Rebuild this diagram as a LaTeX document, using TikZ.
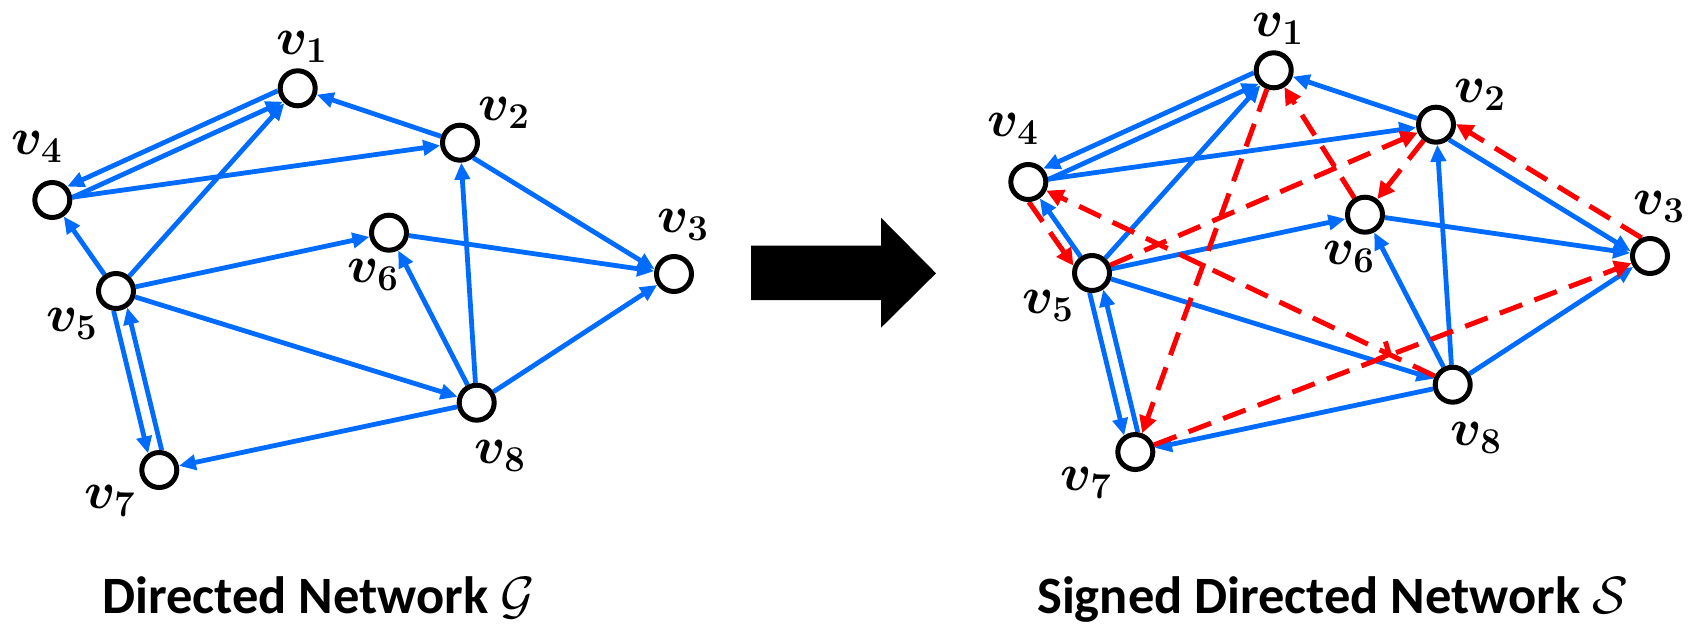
\RequirePackage{fix-cm}
\documentclass[tikz,border=0pt]{standalone}
\usepackage{amsmath,bm}
\usepackage[no-math]{fontspec}
\newfontfamily\capfont{Carlito}
\usetikzlibrary{arrows.meta,calc}
\definecolor{eblue}{RGB}{0,108,255}
\definecolor{ered}{RGB}{255,0,0}
\pgfdeclarelayer{bg}\pgfsetlayers{bg,main}
\tikzset{
 vtx/.style={circle,draw=black,line width=5pt,fill=white,minimum size=35pt,inner sep=0pt},
 lab/.style={inner sep=0pt,font=\fontsize{52}{60}\selectfont},
 be/.style={draw=eblue,line width=4.8pt,-{Triangle[length=17pt,width=15pt]}},
 re/.style={draw=ered,line width=5pt,dash pattern=on 24pt off 13pt,-{Triangle[length=17pt,width=17pt]}},
 chev/.style={draw=ered,line width=4pt,-{Straight Barb[length=9pt,width=20pt,line width=5pt]}},
 off6/.style={shorten <=19.1pt,shorten >=19.1pt},
 off7/.style={shorten <=18.7pt,shorten >=18.7pt},
 off11/.style={shorten <=16.7pt,shorten >=16.7pt},
 captxt/.style={inner sep=0pt,font=\capfont\bfseries\fontsize{52.5}{60}\selectfont},
}
\newcommand\mkgraph[3]{%
 \begin{scope}[shift={(#2,#3)}]
 \node[vtx] (#1-1) at (297.7,88.3) {};
 \node[vtx] (#1-2) at (460,142.7) {};
 \node[vtx] (#1-3) at (674,274) {};
 \node[vtx] (#1-4) at (52.3,200) {};
 \node[vtx] (#1-5) at (116,291) {};
 \node[vtx] (#1-6) at (389,232.7) {};
 \node[vtx] (#1-7) at (159.3,470) {};
 \node[vtx] (#1-8) at (476.7,402.7) {};
 \node[lab] (#1-l1) at (302,47) {$\bm{v}_{\mathbf{1}}$};
 \node[lab] (#1-l2) at (504,113) {$\bm{v}_{\mathbf{2}}$};
 \node[lab] (#1-l3) at (683,225) {$\bm{v}_{\mathbf{3}}$};
 \node[lab] (#1-l4) at (37,147) {$\bm{v}_{\mathbf{4}}$};
 \node[lab] (#1-l5) at (72,324) {$\bm{v}_{\mathbf{5}}$};
 \node[lab] (#1-l6) at (373,275) {$\bm{v}_{\mathbf{6}}$};
 \node[lab] (#1-l7) at (110,501) {$\bm{v}_{\mathbf{7}}$};
 \node[lab] (#1-l8) at (500,456) {$\bm{v}_{\mathbf{8}}$};
 \end{scope}
}
\newcommand\mkedges[1]{%
 \draw[be] (#1-2) -- (#1-1);
 \draw[be] (#1-4) -- (#1-2);
 \draw[be] (#1-5) -- (#1-1);
 \draw[be] (#1-5) -- (#1-4);
 \draw[be] (#1-5) -- (#1-6);
 \draw[be] (#1-6) -- (#1-3);
 \draw[be,off6] ($(#1-2)!6pt!-90:(#1-3)$) -- ($(#1-3)!6pt!90:(#1-2)$);
 \draw[be] (#1-8) -- (#1-2);
 \draw[be] (#1-8) -- (#1-6);
 \draw[be] (#1-8) -- (#1-3);
 \draw[be] (#1-5) -- (#1-8);
 \draw[be] (#1-8) -- (#1-7);
 \draw[be,off6] ($(#1-1)!6pt!-90:(#1-4)$) -- ($(#1-4)!6pt!90:(#1-1)$);
 \draw[be,off6] ($(#1-4)!6pt!-90:(#1-1)$) -- ($(#1-1)!6pt!90:(#1-4)$);
 \draw[be,off7] ($(#1-5)!7pt!-90:(#1-7)$) -- ($(#1-7)!7pt!90:(#1-5)$);
 \draw[be,off7] ($(#1-7)!7pt!-90:(#1-5)$) -- ($(#1-5)!7pt!90:(#1-7)$);
}
\begin{document}
\begin{tikzpicture}[x=1pt,y=-1pt]
\useasboundingbox (0,0) rectangle (1688,626);
\mkgraph{L}{0}{0}
\mkgraph{R}{976}{-18}
\begin{pgfonlayer}{bg}
\mkedges{L}
\mkedges{R}
\draw[re] (R-1) -- (R-7);
\draw[re] (R-6) -- (R-1);
\draw[re] (R-5) -- (R-2);
\draw[re] (R-2) -- (R-6);
\draw[re,off11] ($(R-3)!11pt!-90:(R-2)$) -- ($(R-2)!11pt!90:(R-3)$);
\draw[re] (R-7) -- (R-3);
\draw[re,off11] ($(R-4)!11pt!-90:(R-5)$) -- ($(R-5)!11pt!90:(R-4)$);
\draw[re] (R-8) -- (R-4);
\draw[chev] ($(R-8)!72pt!(R-4)$) -- ($(R-8)!67pt!(R-4)$);
\end{pgfonlayer}
\fill[black] (751,245.7) -- (881,245.7) -- (881,217.7) -- (936,273.3) -- (881,327.7) -- (881,300) -- (751,300) -- cycle;
\node[captxt,anchor=base west] (capL) at (102,613) {Directed Network $\mathcal{G}$};
\node[captxt,anchor=base west] (capR) at (1037,613) {Signed Directed Network $\mathcal{S}$};
\end{tikzpicture}
\end{document}
